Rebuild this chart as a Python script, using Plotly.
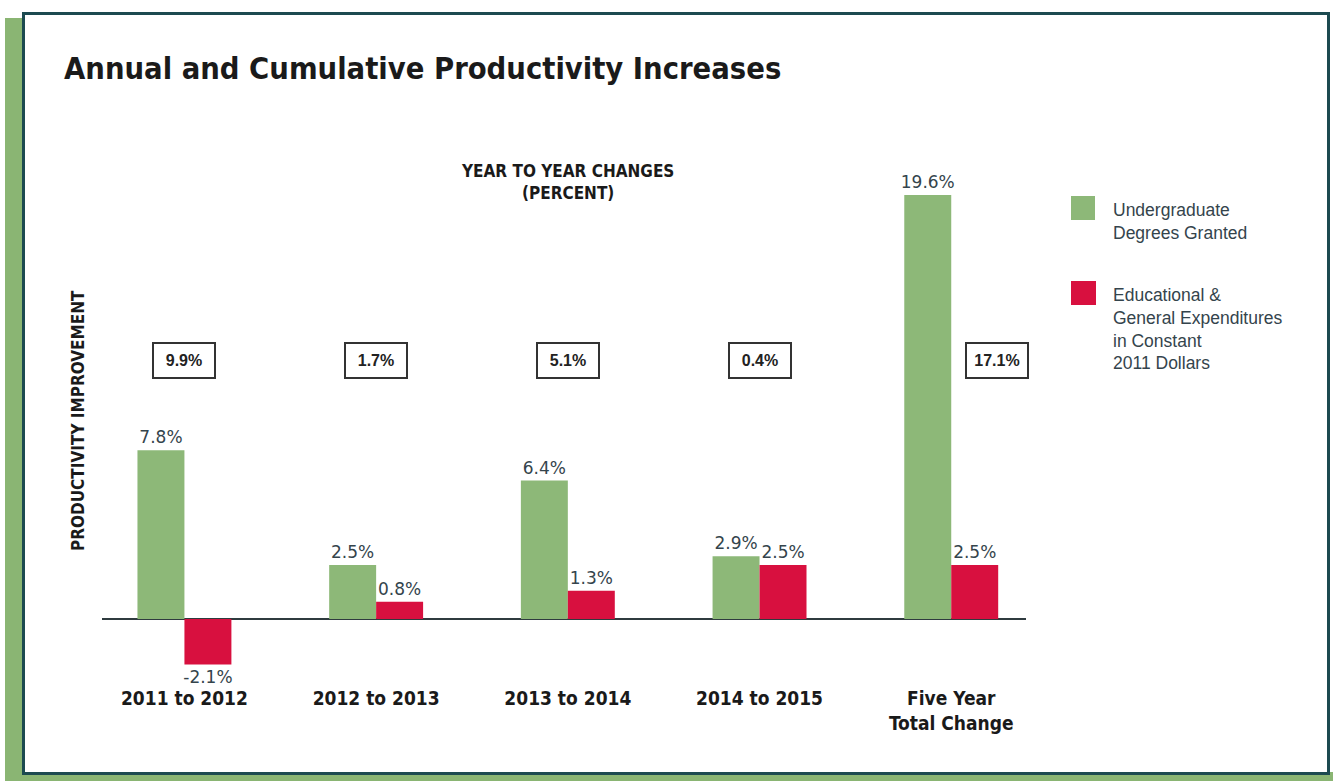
import plotly.graph_objects as go

categories = ["2011 to 2012", "2012 to 2013", "2013 to 2014", "2014 to 2015", "Five Year<br>Total Change"]
degrees = [7.8, 2.5, 6.4, 2.9, 19.6]
expenditures = [-2.1, 0.8, 1.3, 2.5, 2.5]
improvement = ["9.9%", "1.7%", "5.1%", "0.4%", "17.1%"]

GREEN = "#8db878"
RED = "#d8103f"
TEXT = "#34444c"
NARROW = "Liberation Sans Narrow, DejaVu Sans Condensed, Arial Narrow, sans-serif"
REG = "Liberation Sans, Arial, sans-serif"
WIDE = "DejaVu Sans, sans-serif"

W, H = 1333, 781
L, R, T, B = 102, 1026, 150, 680
PW, PH = R - L, B - T


def px(x):
    return (x - L) / PW


def py(y):
    return (B - y) / PH


fig = go.Figure()
fig.add_trace(go.Bar(
    x=categories, y=degrees, marker=dict(color=GREEN, line=dict(width=0)),
    text=[f"{v}%" for v in degrees], textposition="outside", constraintext="none",
    textfont=dict(family=WIDE, size=17, color=TEXT), cliponaxis=False,
    name="Undergraduate Degrees Granted", showlegend=False,
))
fig.add_trace(go.Bar(
    x=categories, y=expenditures, marker=dict(color=RED, line=dict(width=0)),
    text=[f"{v}%" for v in expenditures], textposition="outside", constraintext="none",
    textfont=dict(family=WIDE, size=17, color=TEXT), cliponaxis=False,
    name="Educational & General Expenditures in Constant 2011 Dollars", showlegend=False,
))

shapes = [
    dict(type="rect", xref="paper", yref="paper", x0=px(5), x1=px(25), y0=py(781), y1=py(18),
         fillcolor="#8ab573", line=dict(width=0), layer="below"),
    dict(type="rect", xref="paper", yref="paper", x0=px(5), x1=px(1333), y0=py(781), y1=py(772),
         fillcolor="#8ab573", line=dict(width=0), layer="below"),
    dict(type="rect", xref="paper", yref="paper", x0=px(23.5), x1=px(1328.5), y0=py(773.5), y1=py(13.5),
         fillcolor="white", line=dict(color="#1c4a50", width=3), layer="below"),
    dict(type="rect", xref="paper", yref="paper", x0=px(1071), x1=px(1095), y0=py(220), y1=py(196),
         fillcolor=GREEN, line=dict(width=0)),
    dict(type="rect", xref="paper", yref="paper", x0=px(1071), x1=px(1096), y0=py(305), y1=py(281),
         fillcolor=RED, line=dict(width=0)),
]

annotations = [
    dict(text="<b>Annual and Cumulative Productivity Increases</b>", xref="paper", yref="paper",
         x=px(62), y=py(68), xanchor="left", yanchor="middle", showarrow=False,
         font=dict(family=NARROW, size=30.6, color="#1a1a1a")),
    dict(text="<b>YEAR TO YEAR CHANGES<br>(PERCENT)</b>", xref="paper", yref="paper",
         x=px(567), y=py(182), xanchor="center", yanchor="middle", showarrow=False,
         font=dict(family=NARROW, size=17, color="#1a1a1a")),
    dict(text="<b>PRODUCTIVITY IMPROVEMENT</b>", xref="paper", yref="paper", textangle=-90,
         x=px(78), y=py(421), xanchor="center", yanchor="middle", showarrow=False,
         font=dict(family=NARROW, size=17, color="#1a1a1a")),
    dict(text="Undergraduate<br>Degrees Granted", xref="paper", yref="paper",
         x=px(1111), y=py(221), xanchor="left", yanchor="middle", align="left", showarrow=False,
         font=dict(family=REG, size=17.5, color=TEXT)),
    dict(text="Educational &<br>General Expenditures<br>in Constant<br>2011 Dollars", xref="paper", yref="paper",
         x=px(1111), y=py(329), xanchor="left", yanchor="middle", align="left", showarrow=False,
         font=dict(family=REG, size=17.5, color=TEXT)),
]

for i, (cat, lab) in enumerate(zip(categories, improvement)):
    annotations.append(dict(
        text=f"<b>{lab}</b>", x=cat, xref="x", y=py(360), yref="paper",
        xshift=46 if i == len(categories) - 1 else 0,
        xanchor="center", yanchor="middle", showarrow=False, width=52, height=25,
        bordercolor="#333333", borderwidth=2, borderpad=4, bgcolor="white",
        font=dict(family=REG, size=16, color="#222222"),
    ))

fig.update_layout(
    width=W, height=H, margin=dict(l=L, r=W - R, t=T, b=H - B),
    paper_bgcolor="white", plot_bgcolor="rgba(0,0,0,0)",
    barmode="group", bargap=0.51, bargroupgap=0,
    shapes=shapes, annotations=annotations, showlegend=False,
    xaxis=dict(range=[-0.43, 4.39], showgrid=False, showline=False, ticks="", zeroline=False,
               tickfont=dict(family=NARROW, size=19, color="#1a1a1a"), tickprefix="<b>", ticksuffix="</b>",
               ticklabelstandoff=5),
    yaxis=dict(range=[-2.82, 21.68], showgrid=False, showticklabels=False, showline=False, ticks="",
               zeroline=True, zerolinecolor="#2f3b3f", zerolinewidth=2),
)

fig.write_html("out.html")
